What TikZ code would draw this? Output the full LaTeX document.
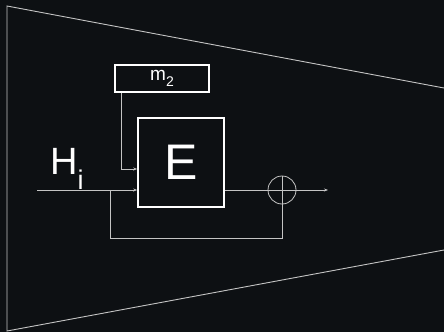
\documentclass[tikz,border=0pt]{standalone}
\usepackage{fontspec}
\setmainfont{Liberation Sans}
\usetikzlibrary{arrows.meta,positioning}
\definecolor{bgc}{HTML}{0D1013}
\definecolor{wire}{HTML}{C4C4C4}
\begin{document}
\begin{tikzpicture}[
  x=1pt, y=-1pt,
  blk/.style={draw=white, line width=1.6pt, inner sep=0pt},
  keybox/.style={draw=white, line width=1.3pt, inner sep=0pt,
    minimum width=94pt, minimum height=27pt},
  wires/.style={draw=wire, line width=0.8pt},
  every edge/.style={draw=wire, line width=0.8pt, -{Stealth[length=4pt,width=3pt]}},
]
\fill[bgc] (0,0) rectangle (444,332);
\useasboundingbox (0,0) rectangle (444,332);

% funnel outline
\coordinate (tl) at (7,6);
\coordinate (bl) at (7,331);
\draw[wires, line width=0.9pt] (444,88) -- (tl) -- (bl) -- (444,250);

\node[blk, minimum width=86pt, minimum height=89pt, text=white,
  font=\fontsize{50}{50}\selectfont] (enc) at (181,162.5) {E};
\node[keybox, text=white, font=\fontsize{19}{19}\selectfont] (key) at (162,78.5)
  {m\raisebox{-6pt}{\fontsize{14}{14}\selectfont 2}};
\node[text=white, anchor=base west, inner sep=0pt,
  font=\fontsize{38}{38}\selectfont] (hin) at (50,174)
  {H\raisebox{-15pt}{\fontsize{27}{27}\selectfont i}};

\coordinate (in) at (37,190);
\coordinate (split) at (110,190);
\coordinate (out) at (328,190);
\draw[wires] (282,190) circle (14pt);
\node[circle, minimum size=28pt, inner sep=0pt] (xor) at (282,190) {};
\draw[wires] (xor.north) -- (xor.south) (xor.west) -- (xor.east);

\draw (in) edge (enc.west |- in);
\draw (key.south west) ++(7,0) coordinate (kd) edge[-] (kd |- 0,169);
\draw (kd |- 0,169) edge (enc.west |- 0,169);
\draw[wires] (enc.east |- in) -- (xor.west);
\draw (xor.east) edge (out);
\draw[wires] (split) |- (xor.south |- 0,238) -- (xor.south);
\end{tikzpicture}
\end{document}
